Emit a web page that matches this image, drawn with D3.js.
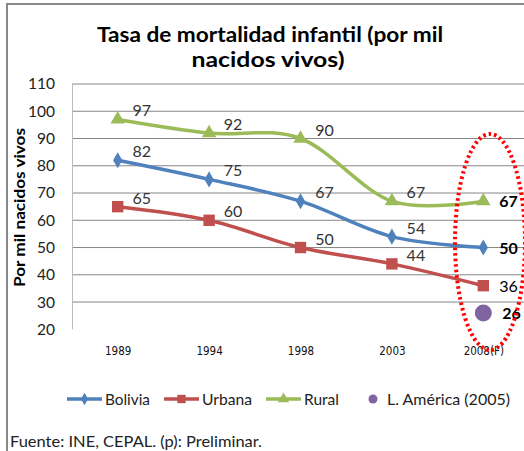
<!DOCTYPE html>
<html><head><meta charset="utf-8">
<script src="https://cdn.jsdelivr.net/npm/d3@7"></script>
<style>html,body{margin:0;padding:0;background:#fff;}svg{display:block;}</style>
</head><body>
<svg id="c" width="524" height="451"></svg>
<script>
const categories = ["1989","1994","1998","2003","2008(F)"];
const bolivia = [82,75,67,54,50];
const urbana = [65,60,50,44,36];
const rural = [97,92,90,67,67];
const lamerica = {cat:"2008(F)", value:26};
const yTicks = [20,30,40,50,60,70,80,90,100,110];
const seriesNames = ["Bolivia","Urbana","Rural","L. América (2005)"];

const svg = d3.select("#c");
const font = "Lato, 'Open Sans', sans-serif";
const colors = {Bolivia:"#4F81BD", Urbana:"#C0504D", Rural:"#9BBB59", LA:"#8064A2"};

// frame
svg.append("line").attr("x1",7).attr("x2",524).attr("y1",4).attr("y2",4).attr("stroke","#888").attr("stroke-width",2);
svg.append("line").attr("x1",7).attr("x2",7).attr("y1",3).attr("y2",451).attr("stroke","#888").attr("stroke-width",2);

// title
const t = svg.append("text").attr("font-family",font).attr("font-weight","bold").attr("font-size",20).attr("fill","#000").attr("text-anchor","middle");
t.append("tspan").attr("x",270).attr("y",42).attr("textLength",346).attr("lengthAdjust","spacingAndGlyphs").text("Tasa de mortalidad infantil (por mil");
t.append("tspan").attr("x",268).attr("y",67).attr("textLength",153).attr("lengthAdjust","spacingAndGlyphs").text("nacidos vivos)");

const x = d3.scalePoint().domain(categories).range([72,529]).padding(0.5);
const y = d3.scaleLinear().domain([20,110]).range([329.3,84]);

// gridlines
svg.append("g").selectAll("line").data(yTicks.filter(d=>d>20)).join("line")
  .attr("x1",72).attr("x2",524).attr("y1",d=>y(d)).attr("y2",d=>y(d))
  .attr("stroke","#868686").attr("stroke-width",1);
// left axis line
svg.append("line").attr("x1",72.5).attr("x2",72.5).attr("y1",y(110)).attr("y2",y(20)).attr("stroke","#bbb").attr("stroke-width",1);

// y tick labels via axis
const yAxis = svg.append("g").attr("transform","translate(72,0)")
  .call(d3.axisLeft(y).tickValues(yTicks).tickSize(0).tickPadding(17).tickFormat(d3.format("d")));
yAxis.select(".domain").remove();
yAxis.selectAll("text").attr("font-family",font).attr("font-size",15.5).attr("fill","#222");

// y title
svg.append("text").attr("transform","translate(25,207.5) rotate(-90)").attr("text-anchor","middle")
  .attr("font-family",font).attr("font-weight","bold").attr("font-size",15).attr("fill","#000")
  .attr("textLength",159).attr("lengthAdjust","spacingAndGlyphs").text("Por mil nacidos vivos");

// x labels via axis
const xAxis = svg.append("g").attr("transform","translate(0,345)")
  .call(d3.axisBottom(x).tickSize(0).tickPadding(0));
xAxis.select(".domain").remove();
xAxis.selectAll("text").attr("font-family","'DejaVu Sans Condensed', 'DejaVu Sans', sans-serif").attr("font-size",11.5).attr("fill","#111").attr("dy","0.9em");

const line = d3.line().x((d,i)=>x(categories[i])).y(d=>y(d)).curve(d3.curveCardinal.tension(0));

const sers = [
  {name:"Rural", vals:rural, color:colors.Rural, marker:"tri"},
  {name:"Bolivia", vals:bolivia, color:colors.Bolivia, marker:"dia"},
  {name:"Urbana", vals:urbana, color:colors.Urbana, marker:"sq"}
];
const sym = {tri:d3.symbol().type(d3.symbolTriangle).size(90), dia:d3.symbol().type(d3.symbolDiamond).size(75), sq:d3.symbol().type(d3.symbolSquare).size(130)};

sers.forEach(s=>{
  svg.append("path").attr("d",line(s.vals)).attr("fill","none").attr("stroke",s.color).attr("stroke-width",3.5).attr("stroke-linejoin","round").attr("stroke-linecap","round");
  svg.append("g").selectAll("path").data(s.vals).join("path")
    .attr("transform",(d,i)=>`translate(${x(categories[i])},${y(d)})`)
    .attr("d",sym[s.marker]).attr("fill",s.color);
  svg.append("g").selectAll("text").data(s.vals).join("text")
    .attr("x",(d,i)=> i<categories.length-1 ? x(categories[i])+24 : x(categories[i])+16)
    .attr("y",(d,i)=> i<categories.length-1 ? y(d)-3 : y(d)+6)
    .attr("text-anchor",(d,i)=> i<categories.length-1 ? "middle" : "start")
    .attr("font-family",font).attr("font-size",16)
    .attr("font-weight",(d,i)=> i===categories.length-1 && s.name!=="Urbana" ? "bold" : "normal")
    .attr("fill",(d,i)=> i===categories.length-1 ? "#000" : "#333")
    .text(d=>d);
});

// L. America point
svg.append("circle").attr("cx",x(lamerica.cat)).attr("cy",y(lamerica.value)).attr("r",8.5).attr("fill",colors.LA);
svg.append("text").attr("x",x(lamerica.cat)+19).attr("y",y(lamerica.value)+6).attr("font-family",font).attr("font-size",16).attr("font-weight","bold").attr("fill","#000").text(lamerica.value);

// dotted ellipse
svg.append("ellipse").attr("cx",490).attr("cy",242).attr("rx",35).attr("ry",108)
  .attr("fill","none").attr("stroke","#ff0000").attr("stroke-width",4).attr("stroke-dasharray","2.5,3");

// legend
const leg = svg.append("g").attr("font-family",font).attr("font-size",15).attr("fill","#222");
const legItems = [
  {name:seriesNames[0], color:colors.Bolivia, marker:"dia", x:67, w:45},
  {name:seriesNames[1], color:colors.Urbana, marker:"sq", x:164, w:50},
  {name:seriesNames[2], color:colors.Rural, marker:"tri", x:266, w:35}
];
const legSym = {tri:d3.symbol().type(d3.symbolTriangle).size(55), dia:d3.symbol().type(d3.symbolDiamond).size(45), sq:d3.symbol().type(d3.symbolSquare).size(70)};
legItems.forEach(it=>{
  leg.append("line").attr("x1",it.x).attr("x2",it.x+35).attr("y1",399).attr("y2",399).attr("stroke",it.color).attr("stroke-width",3.5);
  leg.append("path").attr("transform",`translate(${it.x+17.5},399)`).attr("d",legSym[it.marker]).attr("fill",it.color);
  leg.append("text").attr("x",it.x+38).attr("y",404.5).attr("textLength",it.w).attr("lengthAdjust","spacingAndGlyphs").text(it.name);
});
leg.append("circle").attr("cx",373).attr("cy",399).attr("r",4.5).attr("fill",colors.LA);
leg.append("text").attr("x",387).attr("y",404.5).attr("textLength",123).attr("lengthAdjust","spacingAndGlyphs").text(seriesNames[3]);

// footer
svg.append("text").attr("x",10).attr("y",447).attr("font-family",font).attr("font-size",15).attr("fill","#222")
  .attr("textLength",252).attr("lengthAdjust","spacingAndGlyphs").text("Fuente: INE, CEPAL. (p): Preliminar.");
</script>
</body></html>
